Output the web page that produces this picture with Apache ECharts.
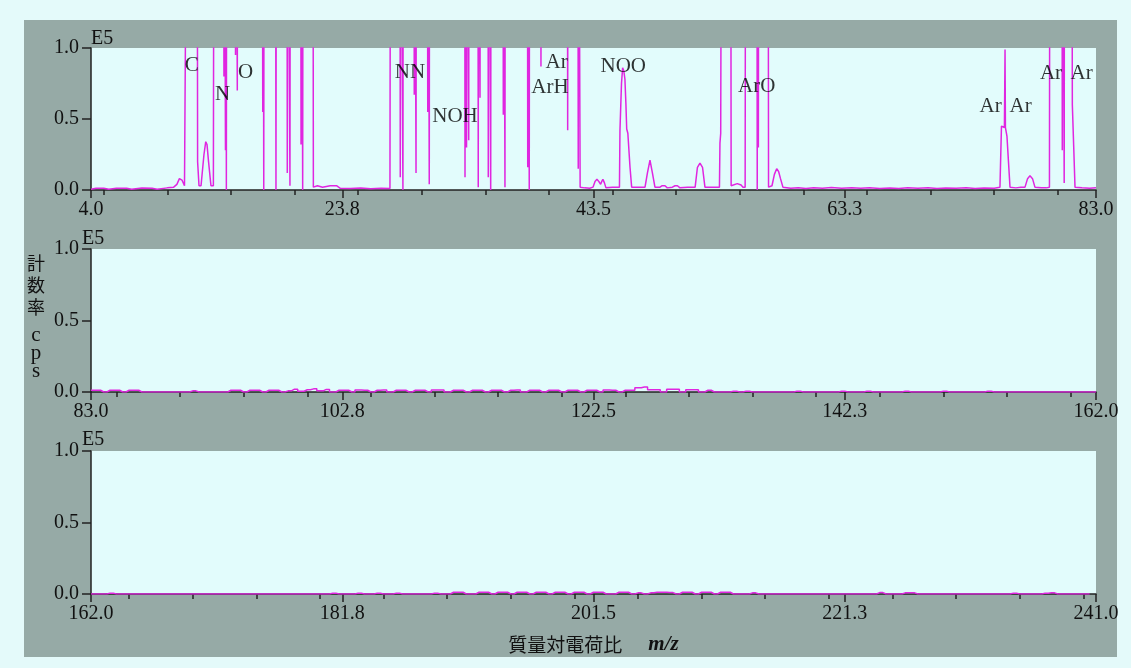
<!DOCTYPE html>
<html>
<head>
<meta charset="utf-8">
<script src="https://cdn.jsdelivr.net/npm/echarts@6/dist/echarts.min.js"></script>
<style>
html,body{margin:0;padding:0;background:#e4fafa;}
#panel{position:absolute;left:24px;top:20px;width:1093px;height:637px;background:#96aaa6;}
#chart{position:absolute;left:0;top:0;width:1131px;height:668px;}
</style>
</head>
<body>
<div id="panel"></div>
<div id="chart"></div>
<script>
// ---------- data ----------
const topRange = [4, 83];
const midRange = [83, 162];
const botRange = [162, 241];
const topMajor = [4, 23.75, 43.5, 63.25, 83];
const midMajor = [83, 102.75, 122.5, 142.25, 162];
const botMajor = [162, 181.75, 201.5, 221.25, 241];
const topMinor = [5,10,15,20,25,30,35,40,45,50,55,60,65,70,75,80];
const midMinor = [85,90,95,100,105,110,115,120,125,130,135,140,145,150,155,160];
const botMinor = [165,170,175,180,185,190,195,200,205,210,215,220,225,230,235,240];
const yTicks = [0, 0.5, 1.0];

// top panel trace [m/z, counts (E5)] ; values > 1 are off scale
const topTrace = [
[4.0,0.005],[4.4,0.012],[5.0,0.012],[5.4,0.005],[6.0,0.012],[6.8,0.012],[7.2,0.006],[8.0,0.014],[8.8,0.012],[9.2,0.006],[10.0,0.015],[10.5,0.02],
[10.75,0.04],[10.95,0.08],[11.15,0.07],[11.35,0.03],[11.5,0.02],[11.56,3],
[12.34,3],[12.38,0.2],[12.49,0.03],[12.65,0.03],[12.88,0.25],[13.02,0.34],[13.12,0.32],[13.24,0.2],[13.43,0.03],[13.62,0.03],[13.67,3],
[14.42,3],[14.45,0.8],[14.48,3],[14.54,3],[14.57,0.28],[14.6,3],[14.62,3],[14.64,0.0],[14.67,3],
[15.33,3],[15.36,0.95],[15.4,3],[15.47,3],[15.5,0.7],[15.53,3],
[17.46,3],[17.5,0.55],[17.53,3],[17.55,3],[17.58,0.0],[17.61,3],
[18.5,3],[18.54,0.0],[18.58,3],
[19.4,3],[19.43,0.12],[19.47,3],[19.6,3],[19.64,0.03],[19.67,3],
[20.48,3],[20.51,0.32],[20.55,3],[20.6,3],[20.64,0.0],[20.67,3],
[21.44,3],[21.48,0.02],
[21.8,0.03],[22.2,0.02],[22.8,0.03],[23.3,0.03],[23.6,0.012],[24.4,0.01],[25.2,0.014],[26.0,0.008],[26.8,0.012],[27.5,0.01],[27.55,3],
[28.28,3],[28.31,0.09],[28.34,3],[28.49,3],[28.52,0.0],[28.55,3],
[29.38,3],[29.41,0.67],[29.44,3],[29.52,3],[29.55,0.12],[29.58,3],
[30.44,3],[30.47,0.55],[30.5,3],[30.56,3],[30.59,0.04],[30.62,3],
[33.37,3],[33.4,0.09],[33.43,3],[33.49,3],[33.52,0.3],[33.55,3],[33.66,3],[33.69,0.35],[33.72,3],
[34.41,3],[34.44,0.02],[34.47,3],[34.55,3],[34.58,0.65],[34.61,3],
[35.2,3],[35.23,0.09],[35.26,3],[35.39,3],[35.42,0.0],[35.45,3],
[36.38,3],[36.41,0.53],[36.44,3],[36.51,3],[36.54,0.02],[36.57,3],
[38.3,3],[38.33,0.16],[38.36,3],[38.42,3],[38.45,0.0],[38.48,3],
[39.34,3],[39.37,0.87],[39.4,3],
[41.44,3],[41.47,0.42],[41.5,3],
[42.27,3],[42.3,0.15],[42.33,3],[42.41,3],[42.45,0.02],
[42.8,0.015],[43.2,0.012],[43.46,0.02],[43.62,0.06],[43.77,0.075],[43.92,0.06],[44.06,0.04],[44.15,0.06],[44.24,0.075],[44.36,0.05],[44.48,0.015],[45.0,0.02],
[45.54,0.02],[45.58,0.42],[45.7,0.75],[45.79,0.86],[45.88,0.84],[45.97,0.78],[46.05,0.6],[46.11,0.43],[46.2,0.4],[46.37,0.16],[46.5,0.02],
[47.0,0.02],[47.55,0.02],[47.74,0.12],[47.94,0.21],[48.13,0.12],[48.33,0.02],[48.73,0.02],[48.9,0.03],[49.12,0.03],[49.3,0.015],[49.7,0.02],[49.91,0.03],[50.1,0.03],[50.3,0.015],[50.9,0.02],
[51.49,0.02],[51.67,0.16],[51.87,0.19],[52.07,0.16],[52.26,0.02],[52.8,0.02],[53.4,0.02],[53.44,0.33],[53.5,0.4],[53.57,3],
[54.28,3],[54.32,0.03],[54.46,0.04],[54.8,0.045],[55.1,0.035],[55.25,0.02],[55.42,0.02],[55.46,3],
[56.34,3],[56.37,0.0],[56.4,3],[56.43,3],[56.46,0.3],[56.49,3],
[57.22,3],[57.26,0.02],[57.53,0.03],[57.72,0.11],[57.9,0.15],[58.05,0.13],[58.2,0.08],[58.39,0.02],
[59.0,0.012],[59.6,0.015],[60.2,0.01],[60.8,0.015],[61.5,0.012],[62.2,0.018],[63.0,0.012],[63.8,0.016],[64.5,0.012],[65.2,0.015],[66.0,0.01],[66.8,0.014],[67.5,0.01],[68.2,0.015],[69.0,0.012],[69.8,0.015],[70.5,0.01],[71.2,0.014],[72.0,0.012],[72.8,0.015],[73.5,0.01],[74.2,0.014],[75.0,0.012],[75.45,0.02],
[75.57,0.45],[75.69,0.46],[75.8,0.44],[75.85,0.99],[75.88,0.44],[76.0,0.38],[76.12,0.2],[76.24,0.02],
[76.7,0.015],[77.1,0.02],[77.42,0.02],[77.62,0.08],[77.81,0.1],[78.01,0.08],[78.2,0.02],[78.7,0.015],[79.1,0.015],[79.34,0.02],[79.38,3],
[80.32,3],[80.35,0.28],[80.38,3],[80.47,3],[80.5,0.05],[80.53,3],
[81.1,3],[81.14,0.6],[81.25,0.3],[81.35,0.02],[81.9,0.015],[82.5,0.012],[83.0,0.015]
];

// middle and bottom panels: sampled every 0.5 m/z from the panel start
const midStart = 83, botStart = 162, sampleStep = 0.5;
const midValues = [
0.012,0.012,0,0.012,0.012,0,0.012,0.012,0,
0,0,0,0,0,0,0,0.008,0,0,0,0,0,
0.012,0.012,0,0.012,0.012,0,0.012,0.012,0,
0.008,0.02,0.005,0.016,0.022,0.008,0.018,
0,
0.012,0.012,0,0.014,0.012,0,0.012,0.014,0,0.012,0.012,0,0.012,0.012,0,0.014,0.014,0,0.012,0.012,0,0.012,0.012,0,0.012,0.012,0,0.012,0.014,0,0.012,0.012,0,0.012,0.012,0,0.012,0.012,0,0.012,0.012,0,0.014,0.012,0,0.012,0.012,
0.03,0.035,
0.016,0.016,0,0.02,0.02,0,0.016,0.016,0,0.012,
0,0,0,0.006,0,0.006,0,0,0,0,0,0,0,0.006,0,0,0,0,0,0,0.006,0,0,0,0.006,0,0,0,0,0,0.006,0,0,0,0,0,0.006,0,0,0,0,0,0,0.006,0,0,0,0,0,0,0,0,0,0,0,0,0,0,0,0,0
];
const botValues = [
0,0,0,0.006,0,0,0,0,0,0,0,0,0,0,0,0,0,0,0,0,0,0,0,0,0,0,0,0,0,0,0,0,0,0,0,0,0,0,0.006,0,0,0,0.006,0,0,0.006,0,0,0.006,0,0,0,0,0,0.006,0,0,
0.012,0.012,
0,0,
0.012,0.012,0,0.012,0.012,0,0.012,0.012,0,0.012,0.012,0,0.012,0.012,0,0.012,0.012,0,0.012,0.012,0,
0,
0.012,0.012,
0,
0.008,
0,
0.008,
0.012,0.012,0.01,
0,
0.012,0.012,0,0.012,0.012,0,0.012,0.012,
0,0,0,
0.008,
0,0,0,0,0,0,0,0,0,0,0,0,0,0,0,0,0,0,0,0.01,0,0,0,0.008,0.008,0,0,0,0,0,0,0,0,0,0,0,0,0,0,0,0.006,0,0,0,0,0.006,0.008,0,0,0,0,0,0
];

// peak annotations
const peakNames = ['C','N','O','NN','NOH','Ar','ArH','NOO','ArO','Ar','Ar','Ar','Ar'];
const peakX = [11.92,14.35,16.16,29.07,32.61,40.6,40.08,45.84,56.33,74.72,77.08,79.46,81.87];
const peakY = [0.88,0.67,0.83,0.83,0.52,0.90,0.72,0.87,0.73,0.59,0.59,0.82,0.82];

// ---------- chart ----------
const SERIF = '"Liberation Serif","Times New Roman",serif';
const CJK = '"Noto Sans CJK JP","Noto Sans CJK SC",sans-serif';
const INK = '#111';
const AXIS = '#222';
const LINE = '#e026e0';

function sampled(start, values){
  return values.map((v, i) => [start + i * sampleStep, v]);
}

const grids = [
  {left:91, top:48, width:1005, height:142},
  {left:91, top:249, width:1005, height:143},
  {left:91, top:451, width:1005, height:143}
].map(g => Object.assign(g, {show:true, backgroundColor:'#e2fcfc', borderWidth:0, containLabel:false}));

function majorAxis(gi, range, majors, extra){
  return Object.assign({
    type:'value', gridIndex:gi, min:range[0], max:range[1], position:'bottom',
    axisLine:{show:true, onZero:false, lineStyle:{color:AXIS, width:1.5}},
    axisTick:{show:true, customValues:majors, length:8, lineStyle:{color:AXIS, width:1.5}},
    axisLabel:{show:true, customValues:majors, margin:10, fontFamily:SERIF, fontSize:20, color:INK,
      formatter:v => Number(v).toFixed(1)},
    splitLine:{show:false}
  }, extra || {});
}
function minorAxis(gi, range, minors, h){
  return {
    type:'value', gridIndex:gi, min:range[0], max:range[1], position:'top', offset:-h,
    axisLine:{show:false, onZero:false},
    axisTick:{show:true, inside:true, customValues:minors, length:5, lineStyle:{color:AXIS, width:1.5}},
    axisLabel:{show:false},
    splitLine:{show:false}
  };
}
function yAxis(gi){
  return {
    type:'value', gridIndex:gi, min:0, max:1, interval:0.5,
    axisLine:{show:true, onZero:false, lineStyle:{color:AXIS, width:1.5}},
    axisTick:{show:true, customValues:yTicks, length:9, lineStyle:{color:AXIS, width:1.5}},
    axisLabel:{customValues:yTicks, margin:12, fontFamily:SERIF, fontSize:20, color:INK, formatter:v => Number(v).toFixed(1)},
    splitLine:{show:false}
  };
}

const option = {
  animation:false,
  backgroundColor:'transparent',
  grid:grids,
  xAxis:[
    majorAxis(0, topRange, topMajor),
    minorAxis(0, topRange, topMinor, 142),
    majorAxis(1, midRange, midMajor),
    minorAxis(1, midRange, midMinor, 143),
    majorAxis(2, botRange, botMajor, {
      name:'{a|質量対電荷比}{b|m/z}', nameLocation:'middle', nameGap:40,
      nameTextStyle:{rich:{
        a:{fontFamily:CJK, fontSize:19, color:INK},
        b:{fontFamily:SERIF, fontSize:21, fontStyle:'italic', fontWeight:'bold', color:INK, padding:[0,0,0,26]}
      }}
    }),
    minorAxis(2, botRange, botMinor, 143)
  ],
  yAxis:[yAxis(0), yAxis(1), yAxis(2)],
  series:[
    {type:'line', xAxisIndex:0, yAxisIndex:0, data:topTrace, symbol:'none', clip:true, silent:true,
     lineStyle:{color:LINE, width:1.5}},
    {type:'line', xAxisIndex:2, yAxisIndex:1, data:sampled(midStart, midValues), step:'middle', symbol:'none', clip:true, silent:true,
     lineStyle:{color:LINE, width:1.5}},
    {type:'line', xAxisIndex:4, yAxisIndex:2, data:sampled(botStart, botValues), step:'middle', symbol:'none', clip:true, silent:true,
     lineStyle:{color:LINE, width:1.5}},
    {type:'scatter', xAxisIndex:0, yAxisIndex:0, symbolSize:0, silent:true, z:5,
     itemStyle:{color:'transparent'},
     data:peakNames.map((n, i) => ({name:n, value:[peakX[i], peakY[i]]})),
     label:{show:true, position:'inside', formatter:p => p.name, fontFamily:SERIF, fontSize:21, color:'#000',
       textBorderWidth:0, textBorderColor:'transparent'}}
  ],
  graphic:[
    {type:'text', left:91, top:29, style:{text:'E5', fontFamily:SERIF, fontSize:20, fill:INK}},
    {type:'text', left:82, top:229, style:{text:'E5', fontFamily:SERIF, fontSize:20, fill:INK}},
    {type:'text', left:82, top:430, style:{text:'E5', fontFamily:SERIF, fontSize:20, fill:INK}},
    {type:'text', x:36, y:252, style:{text:'計\n数\n率', fontFamily:CJK, fontSize:18, lineHeight:22, fill:INK, align:'center', verticalAlign:'top'}},
    {type:'text', x:36, y:326, style:{text:'c\np\ns', fontFamily:SERIF, fontSize:21, lineHeight:18, fill:INK, align:'center', verticalAlign:'top'}}
  ]
};

const chart = echarts.init(document.getElementById('chart'), null, {renderer:'canvas'});
chart.setOption(option);
</script>
</body>
</html>
